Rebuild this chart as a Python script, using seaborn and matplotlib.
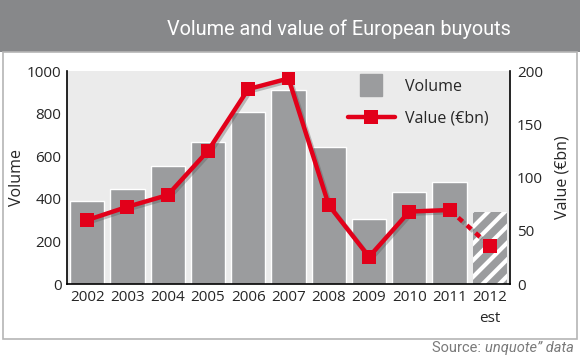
import matplotlib
matplotlib.use('Agg')
import matplotlib.pyplot as plt
import matplotlib.patheffects as pe
from matplotlib.lines import Line2D
from matplotlib.patches import Rectangle
import seaborn as sns
import pandas as pd

# data
years = ['2002', '2003', '2004', '2005', '2006', '2007', '2008', '2009', '2010', '2011', '2012\nest']
volume = [390, 447, 555, 668, 806, 911, 643, 307, 433, 477, 337]
value = [60, 72.5, 83.5, 125, 183, 193, 74, 25.5, 68, 69.5, 36]

BAR = '#9b9c9e'
RED = '#e2001a'
PLOT_BG = '#ebebeb'
NARROW = ['Roboto', 'DejaVu Sans']

sns.set_theme(style='white')
plt.rcParams['font.family'] = ['Open Sans', 'DejaVu Sans']
plt.rcParams['hatch.linewidth'] = 3.0

fig = plt.figure(figsize=(5.8, 3.58), dpi=100)
fig.patch.set_facecolor('white')

# header band + panel frame
fig.add_artist(Rectangle((0, 1 - 52 / 358), 1, 52 / 358, transform=fig.transFigure,
                         facecolor='#87888a', edgecolor='none', zorder=0))
fig.add_artist(Rectangle((3 / 580, 1 - 339 / 358), 574 / 580, (339 - 52) / 358,
                         transform=fig.transFigure, facecolor='none',
                         edgecolor='#b5b5b5', linewidth=1.2, zorder=0))
fig.text(511 / 580, 1 - 29 / 358, 'Volume and value of European buyouts',
         ha='right', va='center', color='white', fontsize=14.3, family=NARROW)

ax = fig.add_axes([67 / 580, 1 - 284 / 358, (510 - 67) / 580, (284 - 71) / 358])
ax.set_facecolor(PLOT_BG)

df = pd.DataFrame({'year': years, 'volume': volume, 'value': value})
sns.barplot(data=df, x='year', y='volume', color=BAR, width=0.85, saturation=1,
            ax=ax, zorder=2)
last = ax.patches[-1]
last.set_hatch('//')
last.set_edgecolor('white')
last.set_linewidth(0)

ax.set_xlim(-0.5, len(years) - 0.5)
ax.set_ylim(0, 1000)
ax.set_yticks(range(0, 1001, 200))
ax.set_xlabel('')
ax.set_ylabel('Volume', fontsize=11.5, labelpad=1)
ax.tick_params(axis='both', which='major', length=0, labelsize=11, pad=4)
for lbl in ax.get_xticklabels():
    lbl.set_linespacing(1.55)
ax.set_xticks([i + 0.5 for i in range(len(years) - 1)], minor=True)
ax.tick_params(axis='x', which='minor', direction='in', length=4, width=1.2, color='black')
for s in ['top', 'right']:
    ax.spines[s].set_visible(False)
for s in ['left', 'bottom']:
    ax.spines[s].set_color('black')
    ax.spines[s].set_linewidth(1.2)

ax2 = ax.twinx()
ax2.set_ylim(0, 200)
ax2.set_yticks(range(0, 201, 50))
ax2.tick_params(axis='y', length=0, labelsize=11, pad=5)
ax2.set_ylabel('Value (€bn)', fontsize=11.5, labelpad=8)
for s in ['top', 'left', 'bottom']:
    ax2.spines[s].set_visible(False)
ax2.spines['right'].set_color('black')
ax2.spines['right'].set_linewidth(1.2)

shadow = [pe.SimpleLineShadow(offset=(1.5, -1.5), shadow_color='#555555', alpha=0.35), pe.Normal()]
xs = list(range(len(years)))
sns.lineplot(x=xs[:-1], y=value[:-1], ax=ax2, color=RED, linewidth=3.2,
             marker='s', markersize=10, markeredgewidth=0, path_effects=shadow, zorder=4)
sns.lineplot(x=xs[-2:], y=value[-2:], ax=ax2, color=RED, linewidth=3.2,
             linestyle=(0, (1.3, 1.3)), path_effects=shadow, zorder=3)
ax2.plot(xs[-1:], value[-1:], color=RED, marker='s', markersize=10, markeredgewidth=0,
         linestyle='none', path_effects=shadow, zorder=4)

handles = [
    Line2D([], [], color=BAR, marker='s', markersize=16, linestyle='none'),
    Line2D([], [], color=RED, marker='s', markersize=10, linewidth=3.2, markeredgewidth=0),
]
ax2.legend(handles, ['Volume', 'Value (€bn)'], loc='upper left',
           bbox_to_anchor=(335 / 580, 1 - 66 / 358), bbox_transform=fig.transFigure,
           frameon=False, fontsize=11.5, handlelength=2.95, handletextpad=0.65,
           labelspacing=1.0, borderpad=0.3)

fig.text(574 / 580, 1 - 348 / 358, 'Source: ', ha='right', va='center', color='#7a7a7a',
         fontsize=10.5, family=NARROW)
src = fig.text(574 / 580, 1 - 348 / 358, 'unquote\u201d data', ha='right', va='center',
               color='#7a7a7a', fontsize=10.5, family=NARROW, style='italic')
fig.canvas.draw()
bb = src.get_window_extent()
fig.texts[-2].set_position((bb.x0 / fig.bbox.width, 1 - 348 / 358))

fig.savefig('out.png', dpi=100)
